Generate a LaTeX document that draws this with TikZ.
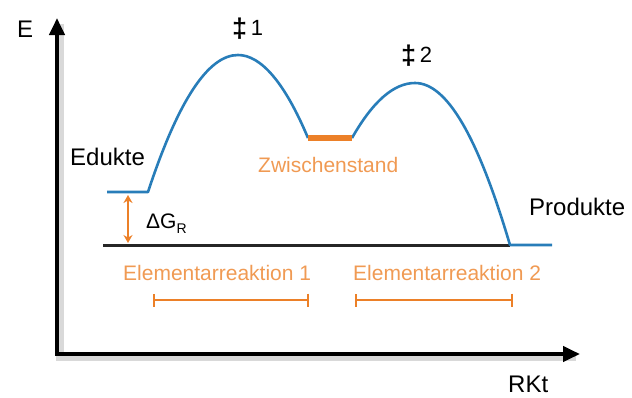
\documentclass[tikz,border=0pt]{standalone}
\usepackage{fontspec}
\setmainfont{Liberation Sans}
\usetikzlibrary{arrows.meta, positioning}
\definecolor{cBlue}{RGB}{40,125,185}
\definecolor{cOrange}{RGB}{236,128,40}
\colorlet{cLabel}{cOrange!80!white}

\tikzset{
  axis/.style={line width=4pt, -{Triangle[length=17pt, width=15pt]}},
  axisshadow/.style={line width=8pt, black, opacity=0.15},
  energy/.style={line width=2.6pt, cBlue, line join=round},
  zeroline/.style={line width=3pt, black!85},
  plateau/.style={line width=6pt, cOrange},
  span/.style={line width=1.8pt, cOrange, {Bar[width=13pt]}-{Bar[width=13pt]}},
  dgarrow/.style={line width=1.8pt, cOrange, {Stealth[length=8pt, width=9pt]}-{Stealth[length=8pt, width=9pt]}},
  lbl/.style={anchor=base west, inner sep=0pt, font=\fontsize{24}{28}\selectfont},
  olbl/.style={lbl, text=cLabel, font=\fontsize{21}{25}\selectfont}
}
\newcommand{\tsmark}{\raisebox{-2pt}{\fontsize{27}{30}\selectfont\bfseries\ddag}}

\begin{document}
\begin{tikzpicture}[x=1pt, y=-1pt]
    \useasboundingbox (0,0) rectangle (632,397);
    % axes
    \coordinate (origin) at (57,354);
    \coordinate (ytip) at (57,18);
    \coordinate (xtip) at (580,354);
    \draw[axisshadow] ([shift={(3,6)}]ytip) -- ([shift={(3,3)}]origin) -- ([shift={(-4,3)}]xtip);
    \draw[axis] (origin) -- (ytip);
    \draw[axis] ([xshift=-2pt]origin) -- (xtip);
    \node[lbl] (elab) at (17,37) {E};
    \node[lbl] (rkt) at (508,392) {RKt};

    % levels and curve
    \coordinate (edL) at (107,192);
    \coordinate (edR) at (148,192);
    \coordinate (ts1) at (238,55);
    \coordinate (imL) at (308,138);
    \coordinate (imR) at (352,138);
    \coordinate (ts2) at (415,83);
    \coordinate (prL) at (510,245);
    \coordinate (prR) at (552,245);
    \coordinate (zeroL) at (103,245);
    \draw[zeroline] (zeroL) -- (prL);
    \draw[energy] (edL) -- (edR) .. controls (178,101) and (208,55) .. (ts1)
      .. controls (261,55) and (285,83) .. (imL);
    \draw[energy] (imR) .. controls (373,101) and (394,83) .. (ts2)
      .. controls (447,83) and (478,137) .. (prL) -- (prR);
    \draw[plateau] (imL) -- (imR);

    \node[lbl] (edukte) at (70,165) {Edukte};
    \node[lbl] (produkte) at (529,215) {Produkte};
    \node[olbl] (zwischen) at (258,172) {Zwischenstand};
    \node[lbl, font=\fontsize{22}{26}\selectfont] (ddag1) at (232,35) {\tsmark\,1};
    \node[lbl, font=\fontsize{22}{26}\selectfont] (ddag2) at (401,62) {\tsmark\,2};

    % Delta G
    \coordinate (dgtop) at (128,195);
    \coordinate (dgbot) at (128,243);
    \draw[dgarrow] (dgtop) -- (dgbot);
    \node[lbl, font=\fontsize{21}{25}\selectfont] (dg) at (146,228)
      {ΔG\raisebox{-5pt}{\fontsize{14}{16}\selectfont R}};

    % elementary reactions
    \node[olbl] (er1) at (123,280) {Elementarreaktion 1};
    \node[olbl] (er2) at (353,280) {Elementarreaktion 2};
    \coordinate (s1a) at (153,300);
    \coordinate (s1b) at (309,300);
    \coordinate (s2a) at (355,300);
    \coordinate (s2b) at (513,300);
    \draw[span] (s1a) -- (s1b);
    \draw[span] (s2a) -- (s2b);
\end{tikzpicture}
\end{document}
